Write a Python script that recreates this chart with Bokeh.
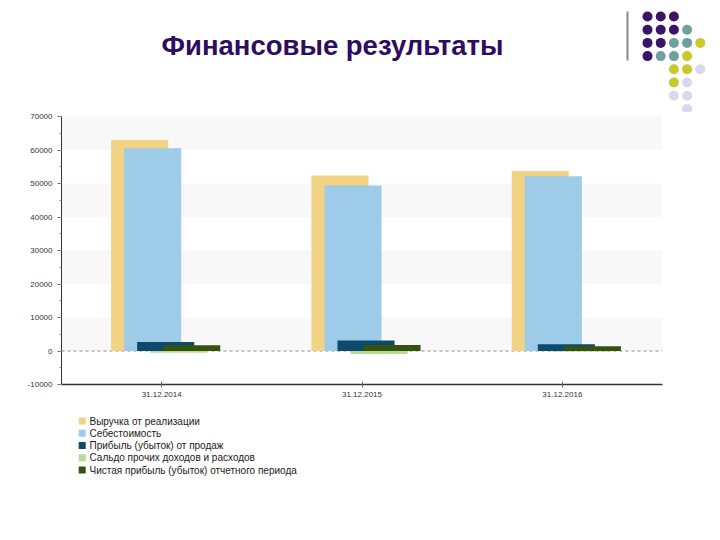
from bokeh.plotting import figure
from bokeh.models import Range1d, FactorRange, SingleIntervalTicker, Span, NumeralTickFormatter, ColumnDataSource
from bokeh.layouts import column
from bokeh.transform import dodge
from bokeh.core.properties import value
from bokeh.embed import file_html
from bokeh.resources import INLINE

# ---------------- data ----------------
title_text = "Финансовые результаты"
categories = ["31.12.2014", "31.12.2015", "31.12.2016"]
series_names = [
    "Выручка от реализации",
    "Себестоимость",
    "Прибыль (убыток) от продаж",
    "Сальдо прочих доходов и расходов",
    "Чистая прибыль (убыток) отчетного периода",
]
revenue = [63000, 52400, 53700]
cost = [60500, 49400, 52200]
sales_profit = [2700, 3100, 2000]
other_balance = [-500, -900, -150]
net_profit = [1700, 1800, 1400]
series_values = [revenue, cost, sales_profit, other_balance, net_profit]
series_colors = ["#F1D383", "#9DCBE8", "#0D4A6E", "#B6DC93", "#34530F"]

# decorative dot grid (top right)
dot_cols = [0, 1, 2, 0, 1, 2, 3, 0, 1, 2, 3, 4, 0, 1, 2, 3, 2, 3, 4, 2, 3, 2, 3, 3]
dot_rows = [0, 0, 0, 1, 1, 1, 1, 2, 2, 2, 2, 2, 3, 3, 3, 3, 4, 4, 4, 5, 5, 6, 6, 7]
PUR, TEA, YEL, LAV = "#3B1466", "#6FA0A0", "#C9C92C", "#D9D9E9"
dot_colors = [PUR, PUR, PUR, PUR, PUR, PUR, TEA, PUR, PUR, TEA, TEA, YEL,
              PUR, TEA, TEA, YEL, YEL, YEL, LAV, YEL, LAV, LAV, LAV, LAV]

FONT = value("Liberation Sans")

# ---------------- top (title + decoration) ----------------
top = figure(width=720, height=112, x_range=Range1d(0, 720), y_range=Range1d(112, 0),
             x_axis_type=None, y_axis_type=None, toolbar_location=None,
             output_backend="svg", min_border=0)
top.frame_align = False
top.outline_line_color = None
top.grid.visible = False
top.text(x=[332], y=[45], text=[title_text], text_align="center", text_baseline="alphabetic",
         text_font=FONT, text_font_style="bold", text_font_size="27.5px", text_color="#2E0C5E")
top.segment(x0=[627], y0=[11], x1=[627], y1=[60], line_color="#8A8A8A", line_width=2)
top.scatter(x=[647 + 13.2 * c for c in dot_cols], y=[16 + 13.2 * r for r in dot_rows],
            size=10, color=dot_colors, line_color=None)

# ---------------- main chart ----------------
src = ColumnDataSource(dict(cat=categories, **{f"s{i}": v for i, v in enumerate(series_values)}))
p = figure(width=720, height=302, x_range=FactorRange(*categories), y_range=Range1d(-10000, 70000),
           toolbar_location=None, output_backend="svg",
           min_border_left=61, min_border_right=58, min_border_top=4, min_border_bottom=30)
p.frame_align = False
p.outline_line_color = None
p.xgrid.visible = False
p.ygrid.grid_line_color = None
p.ygrid.band_fill_color = "#F8F8F8"
p.ygrid.band_fill_alpha = 1.0
p.yaxis.ticker = SingleIntervalTicker(interval=10000, num_minor_ticks=2)
p.yaxis.formatter = NumeralTickFormatter(format="0")
p.axis.major_label_text_font = "Liberation Sans"
p.axis.major_label_text_font_size = "8px"
p.axis.major_label_text_color = "#333333"
p.axis.axis_line_color = "#333333"
p.axis.major_tick_line_color = "#666666"
p.axis.minor_tick_line_color = "#888888"
p.yaxis.major_tick_out = 4
p.yaxis.major_tick_in = 0
p.yaxis.minor_tick_out = 2
p.yaxis.minor_tick_in = 0
p.xaxis.axis_line_width = 1.5
p.xaxis.major_tick_in = 3
p.xaxis.major_tick_out = 3
p.xaxis.major_label_standoff = 4

zero = Span(location=0, dimension="width", line_color="#8C8C8C", line_dash="3 3",
            line_width=1, level="underlay")
p.add_layout(zero)

offsets = [-0.11, -0.045, 0.02, 0.085, 0.15]
for i, (name, col) in enumerate(zip(series_names, series_colors)):
    p.vbar(x=dodge("cat", offsets[i], range=p.x_range), top=f"s{i}", bottom=0, width=0.285,
           source=src, fill_color=col, line_color=None)

# ---------------- legend ----------------
leg = figure(width=720, height=126, x_range=Range1d(0, 720), y_range=Range1d(540, 414),
             x_axis_type=None, y_axis_type=None, toolbar_location=None,
             output_backend="svg", min_border=0)
leg.frame_align = False
leg.outline_line_color = None
leg.grid.visible = False
leg_y = [420.5 + 12.25 * i for i in range(len(series_names))]
leg.rect(x=[81.7] * len(series_names), y=leg_y, width=7, height=7,
         fill_color=series_colors, line_color=None)
leg.text(x=[89] * len(series_names), y=leg_y, text=series_names, text_baseline="middle",
         text_align="left", text_font=FONT, text_font_size="10px", text_color="#1A1A1A")

layout = column(top, p, leg, spacing=0)
open("out.html", "w").write(file_html(layout, INLINE))
